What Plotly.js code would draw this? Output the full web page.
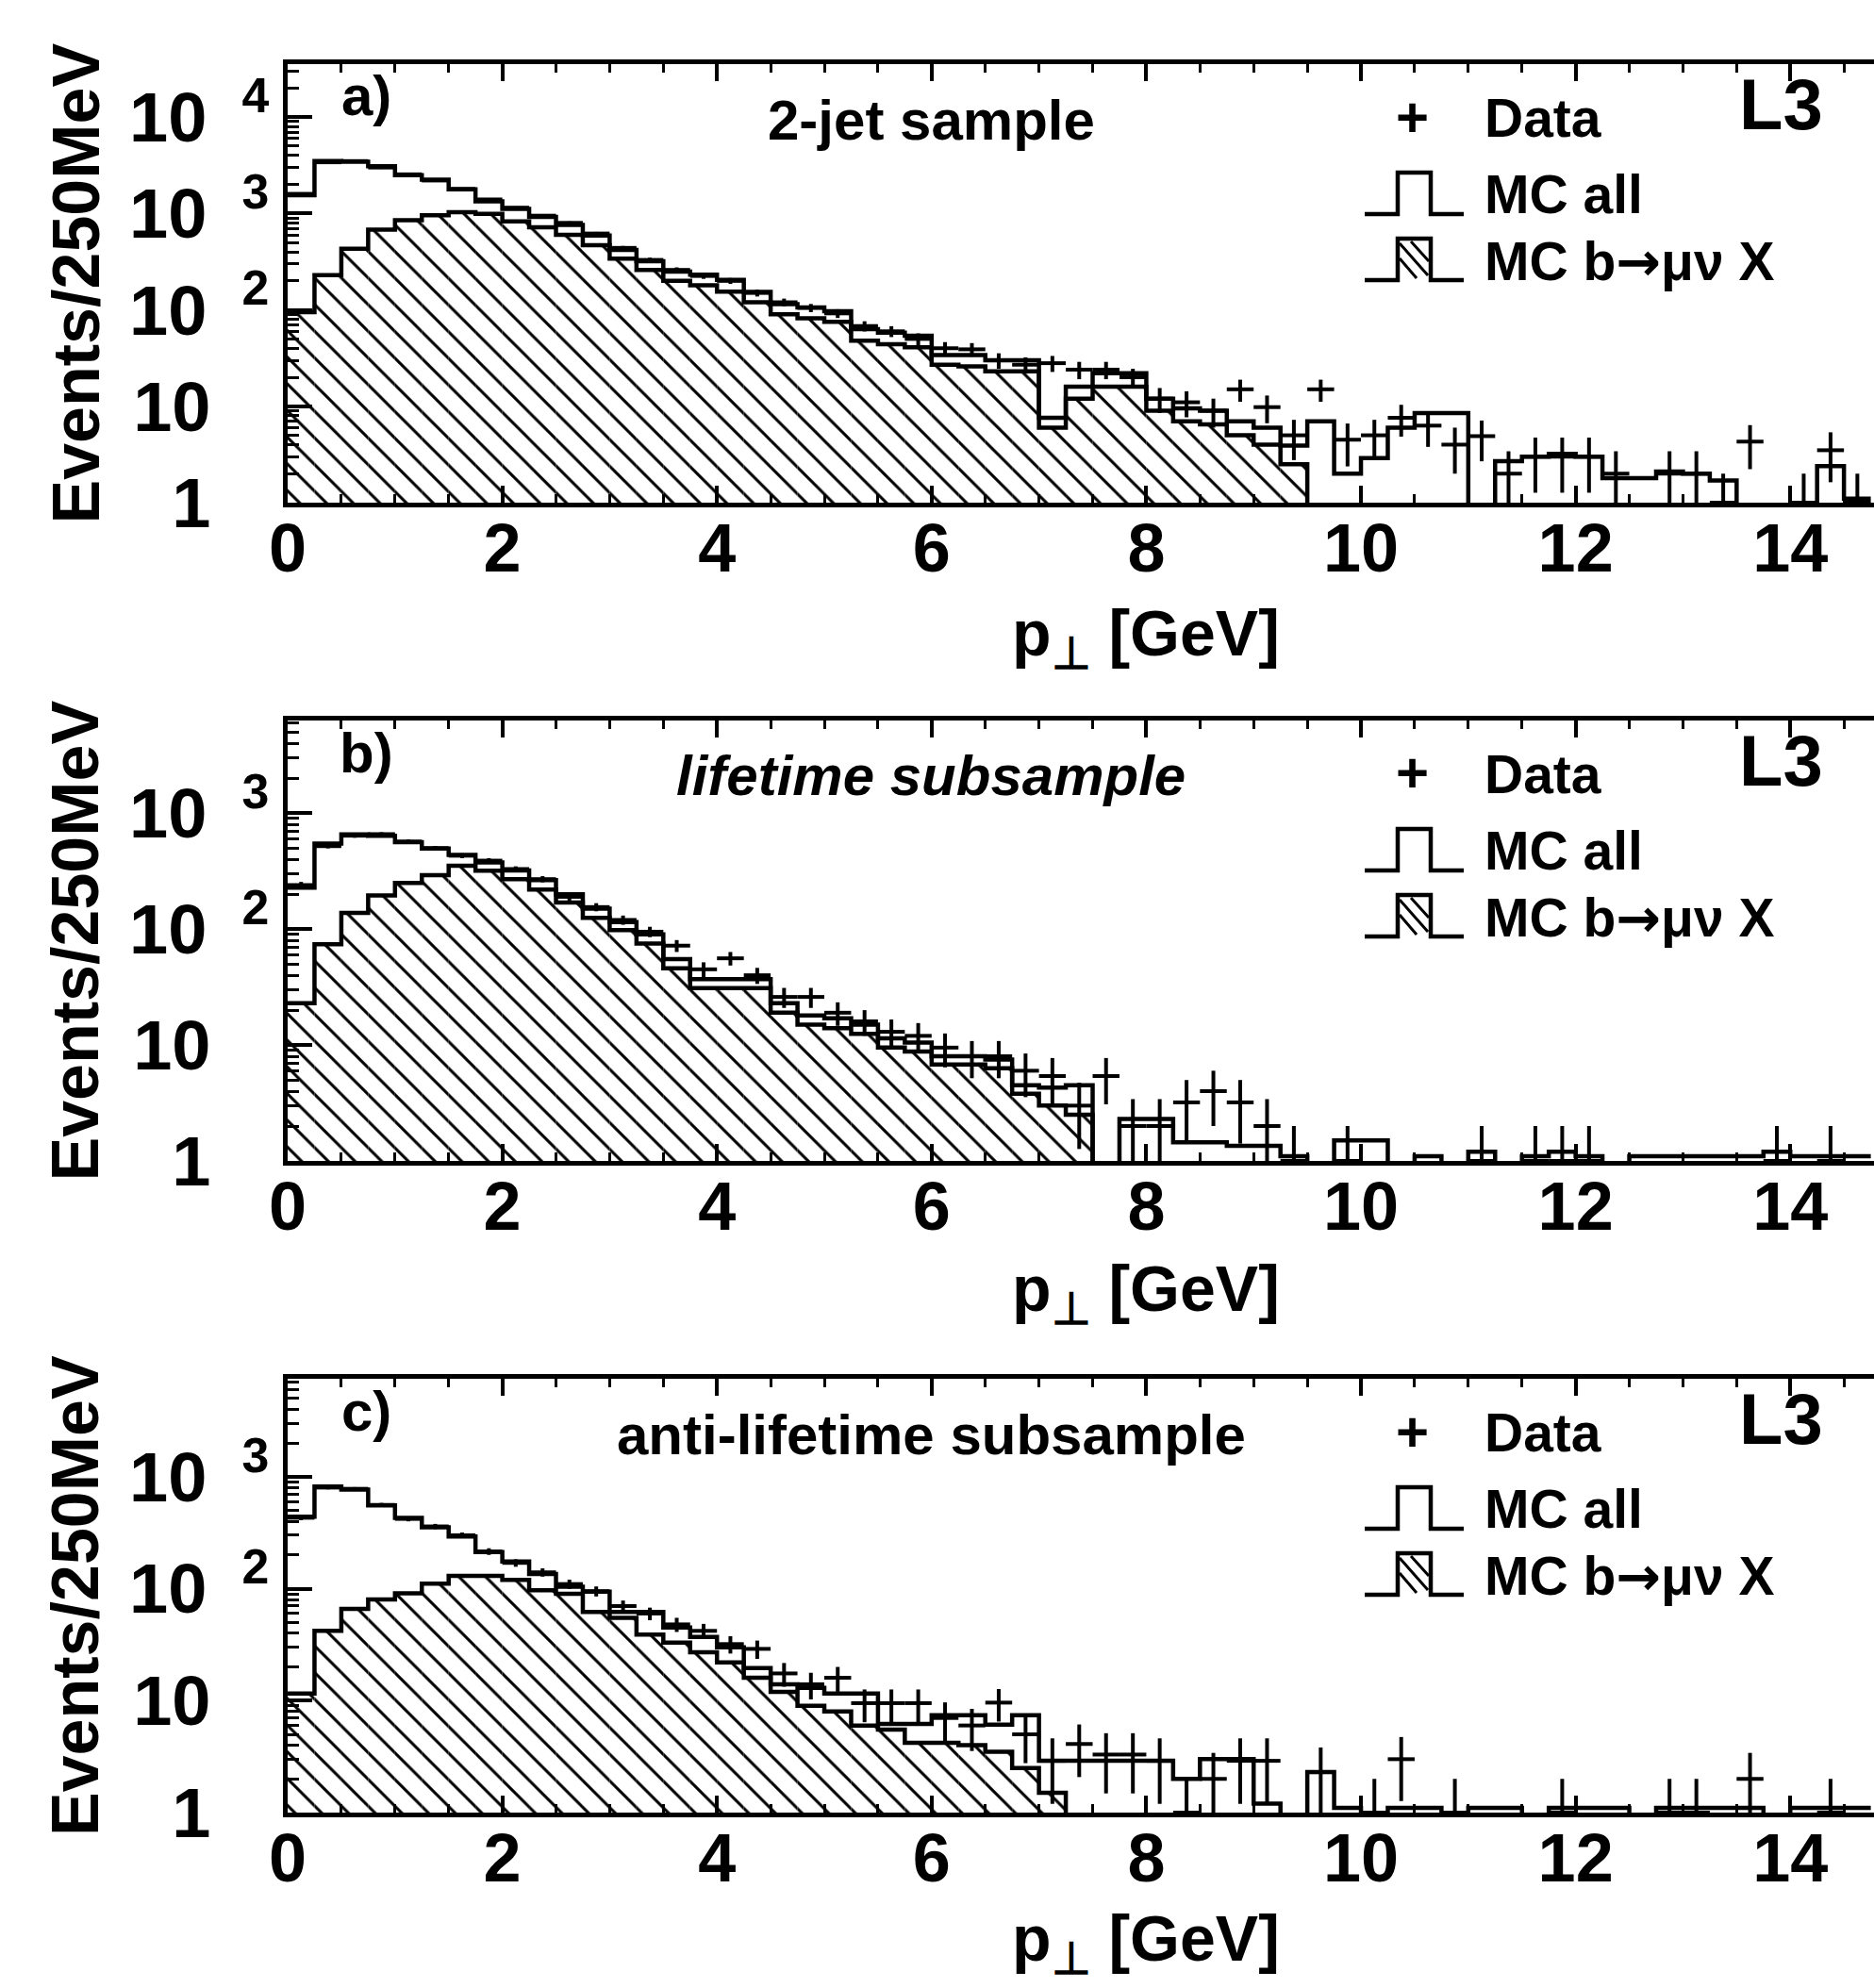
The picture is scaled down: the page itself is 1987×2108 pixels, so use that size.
<!DOCTYPE html>
<html>
<head>
<meta charset="utf-8">
<script src="https://cdn.plot.ly/plotly-3.0.1.min.js"></script>
<style>
html, body { margin: 0; padding: 0; background: #ffffff; }
#chart { width: 1987px; height: 2108px; }
</style>
</head>
<body>
<div id="chart"></div>
<script>
// ---------------- DATA ----------------
// bin centres of the 250 MeV p_T bins (GeV)
const pT = [0.125, 0.375, 0.625, 0.875, 1.125, 1.375, 1.625, 1.875, 2.125, 2.375,
            2.625, 2.875, 3.125, 3.375, 3.625, 3.875, 4.125, 4.375, 4.625, 4.875,
            5.125, 5.375, 5.625, 5.875, 6.125, 6.375, 6.625, 6.875, 7.125, 7.375,
            7.625, 7.875, 8.125, 8.375, 8.625, 8.875, 9.125, 9.375, 9.625, 9.875,
            10.125, 10.375, 10.625, 10.875, 11.125, 11.375, 11.625, 11.875, 12.125, 12.375,
            12.625, 12.875, 13.125, 13.375, 13.625, 13.875, 14.125, 14.375, 14.625];
const BIN_HALF = 0.125;

// a) 2-jet sample
const mcAllA = [1550, 3500, 3450, 3100, 2500, 2250, 1780, 1340, 1120, 920,
                760, 590, 420, 320, 250, 232, 205, 154, 115, 106,
                97, 63, 58, 54, 34, 34, 30, 30, 7.6, 16,
                22, 22, 12, 9.5, 9, 7, 6, 3.9, 7, 2,
                2.9, 6, 8.5, 8.5, 0.8, 2.7, 3, 3.2, 3, 1.8,
                1.8, 2.1, 2, 1.7, 0.9, 0.9, 0.9, 2.4, 1.1];
const mcBA   = [95, 230, 430, 680, 850, 960, 1030, 990, 830, 720,
                600, 470, 340, 260, 200, 180, 155, 120, 90, 82,
                75, 48, 44, 41, 27, 26, 23, 23, 6, 12,
                16, 16, 9, 7, 6.5, 5, 4, 2.5, 0.5, 0.5,
                0.5, 0.5, 0.5, 0.5, 0.5, 0.5, 0.5, 0.5, 0.5, 0.5,
                0.5, 0.5, 0.5, 0.5, 0.5, 0.5, 0.5, 0.5, 0.5];
const dataA  = [1600, 3400, 3500, 3000, 2550, 2200, 1800, 1400, 1150, 950,
                800, 620, 440, 330, 260, 225, 200, 150, 120, 105,
                92, 68, 60, 50, 40, 39, 30, 27, 28, 24,
                24, 20, 12, 11, 9, 15, 9.8, 5, 15, 4.5,
                5, 7.6, 6.3, 4, 4.9, 2, 3, 3, 3, 2,
                null, 2, 2, 1, 4.3, null, 1, 3.5, 1];

// b) lifetime subsample
const mcAllB = [228, 546, 658, 640, 563, 497, 438, 376, 321, 265,
                200, 150, 115, 90, 55, 37, 37, 37, 23, 18,
                17, 15, 11.4, 10.5, 8, 8, 7.5, 4.5, 4.3, 4.5,
                0.8, 2.3, 2.3, 1.45, 1.45, 1.35, 1.35, 1.1, 0.9, 1.5,
                1.5, 0.9, 1.1, 0.9, 1.2, 0.9, 1.1, 1.2, 1.1, 0.9,
                1.1, 1.1, 1.1, 1.1, 1.1, 1.2, 1.1, 1.1, 1.1];
const mcBB   = [23, 74, 138, 195, 250, 292, 352, 320, 270, 220,
                170, 125, 98, 75, 46, 31, 31, 31, 19, 15,
                14, 12.5, 9.5, 8.8, 6.8, 6.8, 6.3, 3.8, 3, 2.5,
                0.5, 0.5, 0.5, 0.5, 0.5, 0.5, 0.5, 0.5, 0.5, 0.5,
                0.5, 0.5, 0.5, 0.5, 0.5, 0.5, 0.5, 0.5, 0.5, 0.5,
                0.5, 0.5, 0.5, 0.5, 0.5, 0.5, 0.5, 0.5, 0.5];
const dataB  = [240, 520, 640, 660, 570, 500, 430, 390, 330, 270,
                190, 155, 120, 95, 72, 45, 56, 40, 26, 26,
                19, 16, 13, 12, 9.5, 8, 8, 6, 5.4, 3,
                5.4, 2, 2, 3.2, 4, 3.2, 2, 1, null, 1,
                null, null, null, null, 1, null, 1, 1, 1, null,
                null, null, null, null, null, 1, null, 1, null];

// c) anti-lifetime subsample
const mcAllC = [440, 819, 768, 556, 430, 354, 292, 212, 175, 135,
                104, 94, 62, 62, 45, 37, 30, 19.5, 14, 13,
                11.6, 11.6, 6.2, 6.2, 7.4, 7.4, 6.1, 7.4, 2.9, 2.9,
                2.9, 2.9, 2.9, 2, 3, 3, 1.2, 0.8, 2.3, 1.1,
                0.9, 1.1, 1.1, 0.9, 1.1, 1.1, 0.9, 1.1, 1.1, 1.1,
                0.9, 1.1, 1.1, 1.1, 1.1, 0.9, 1.1, 1.1, 1.1];
const mcBC   = [11.6, 42, 66, 80, 91, 111, 130, 130, 120, 97,
                90, 62, 55, 39, 33, 27, 22, 16, 12, 9,
                8, 6, 5.5, 4.2, 4.2, 4, 3.5, 2.5, 1.5, 0.5,
                0.5, 0.5, 0.5, 0.5, 0.5, 0.5, 0.5, 0.5, 0.5, 0.5,
                0.5, 0.5, 0.5, 0.5, 0.5, 0.5, 0.5, 0.5, 0.5, 0.5,
                0.5, 0.5, 0.5, 0.5, 0.5, 0.5, 0.5, 0.5, 0.5];
const dataC  = [430, 800, 780, 560, 420, 360, 300, 215, 170, 140,
                110, 95, 70, 60, 48, 42, 32, 29, 17.5, 14,
                16, 9.5, 9.5, 9.5, 7, 6, 9.6, 5, 2.9, 4.1,
                3.3, 3.3, 2.9, 1, 2, 2.9, 2.9, null, 2.3, null,
                1, 3, null, 1, null, null, null, 1, null, null,
                null, 1, 1, null, 2, null, null, 1, null];

// texts
const sampleNames = ['2-jet sample', 'lifetime subsample', 'anti-lifetime subsample'];
const panelTags   = ['a)', 'b)', 'c)'];
const legendLabels = ['Data', 'MC all',
  'MC b<span style="font-family:\'DejaVu Sans\'">\u2192</span>\u03bc\u03bd X'];
const experimentTag = 'L3';
const yTitleText = 'Events/250MeV';
const xTitleText = 'p<sub>\u22a5</sub> [GeV]';
const xTickVals = [0, 2, 4, 6, 8, 10, 12, 14];
const yTickVals = [[1, 10, 100, 1000, 10000], [1, 10, 100, 1000], [1, 10, 100, 1000]];
const yTickText = [
  ['1\u00a0\u00a0\u00a0', '10\u00a0\u00a0\u00a0', '10\u2002<sup>2</sup>', '10\u2002<sup>3</sup>', '10\u2002<sup>4</sup>'],
  ['1\u00a0\u00a0\u00a0', '10\u00a0\u00a0\u00a0', '10\u2002<sup>2</sup>', '10\u2002<sup>3</sup>'],
  ['1\u00a0\u00a0\u00a0', '10\u00a0\u00a0\u00a0', '10\u2002<sup>2</sup>', '10\u2002<sup>3</sup>']
];

const series = [
  {all: mcAllA, b: mcBA, data: dataA},
  {all: mcAllB, b: mcBB, data: dataB},
  {all: mcAllC, b: mcBC, data: dataC}
];

// ---------------- LAYOUT GEOMETRY (pixels) ----------------
const W = 1987, H = 2108;
const PLOT_LEFT = 305;
const X_MAX = 14.78;
const panelBox = [
  {top: 68,   bottom: 533,  logTop: 4.55,  xTitleDy: 143},
  {top: 764,  bottom: 1231, logTop: 3.80,  xTitleDy: 140},
  {top: 1462, bottom: 1922, logTop: 3.875, xTitleDy: 138}
];
const FONT = 'Liberation Sans, Arial, Helvetica, sans-serif';
const INK = '#000000';

const fx = p => p / W;
const fy = p => 1 - p / H;

// step-outline helper: edges from bin centres, drawn with 'hvh'
function stepX() {
  return [pT[0] - BIN_HALF].concat(pT, [pT[pT.length - 1] + BIN_HALF]);
}
function stepY(v) {
  return [v[0]].concat(v, [v[v.length - 1]]);
}

const traces = [];
const layout = {
  width: W, height: H,
  margin: {l: 0, r: 0, t: 0, b: 0, pad: 0},
  paper_bgcolor: '#ffffff',
  plot_bgcolor: '#ffffff',
  showlegend: false,
  barmode: 'overlay',
  font: {family: FONT, color: INK, weight: 'bold'},
  annotations: [],
  shapes: []
};

series.forEach((s, i) => {
  const n = i === 0 ? '' : String(i + 1);
  const xa = 'x' + n, ya = 'y' + n;
  const box = panelBox[i];

  // hatched b -> mu nu X histogram (fill)
  traces.push({
    type: 'bar', x: pT, y: s.b, xaxis: xa, yaxis: ya,
    width: 0.25,
    marker: {color: '#ffffff', line: {width: 0},
             pattern: {shape: '\\', fgcolor: INK, bgcolor: '#ffffff', size: 20, solidity: 0.15}},
    hoverinfo: 'skip'
  });
  // outline of hatched histogram
  traces.push({
    type: 'scatter', mode: 'lines', x: stepX(), y: stepY(s.b), xaxis: xa, yaxis: ya,
    line: {shape: 'hvh', color: INK, width: 4.5}, hoverinfo: 'skip'
  });
  // MC all histogram
  traces.push({
    type: 'scatter', mode: 'lines', x: stepX(), y: stepY(s.all), xaxis: xa, yaxis: ya,
    line: {shape: 'hvh', color: INK, width: 4.5}, hoverinfo: 'skip'
  });
  // data with error bars
  traces.push({
    type: 'scatter', mode: 'markers', x: pT, y: s.data, xaxis: xa, yaxis: ya,
    marker: {size: 3, color: INK},
    error_y: {type: 'sqrt', color: INK, thickness: 4, width: 0},
    error_x: {type: 'constant', value: BIN_HALF, color: INK, thickness: 4, width: 0},
    hoverinfo: 'skip'
  });

  layout['xaxis' + n] = {
    domain: [fx(PLOT_LEFT), 1],
    anchor: ya,
    range: [0, X_MAX],
    showgrid: false, zeroline: false,
    showline: true, linecolor: INK, linewidth: 5,
    mirror: 'ticks',
    ticks: 'inside', ticklen: 18, tickwidth: 4, tickcolor: INK,
    tickmode: 'array', tickvals: xTickVals,
    tickfont: {family: FONT, size: 72, color: INK, weight: 'bold'},
    ticklabelstandoff: -18,
    minor: {ticks: 'inside', dtick: 0.5, ticklen: 9, tickwidth: 3, tickcolor: INK}
  };
  layout['yaxis' + n] = {
    domain: [fy(box.bottom), fy(box.top)],
    anchor: xa,
    type: 'log',
    range: [0, box.logTop],
    showgrid: false, zeroline: false,
    showline: true, linecolor: INK, linewidth: 5,
    mirror: false,
    ticks: 'inside', ticklen: 26, tickwidth: 4, tickcolor: INK,
    tickmode: 'array', tickvals: yTickVals[i], ticktext: yTickText[i],
    tickfont: {family: FONT, size: 74, color: INK, weight: 'bold'},
    ticklabelstandoff: 0,
    minor: {ticks: 'inside', dtick: 'D1', ticklen: 12, tickwidth: 3, tickcolor: INK}
  };

  const T = box.top;
  const A = layout.annotations;
  const txt = (text, xp, yp, size, xanchor, extra) => A.push(Object.assign({
    xref: 'paper', yref: 'paper', x: fx(xp), y: fy(yp), text: text, showarrow: false,
    xanchor: xanchor, yanchor: 'middle',
    font: {family: FONT, size: size, color: INK, weight: 'bold'}
  }, extra || {}));

  txt(panelTags[i], 388, T + 34, 60, 'center');
  txt(sampleNames[i], 987, T + 59, 60, 'center',
      i === 1 ? {font: {family: FONT, size: 60, color: INK, weight: 'bold', style: 'italic'}} : {});
  txt('+', 1497, T + 56, 60, 'center');
  txt(legendLabels[0], 1572, T + 57, 57, 'left');
  txt(experimentTag, 1842, T + 42, 76, 'left');
  txt(legendLabels[1], 1572, T + 138, 57, 'left');
  txt(legendLabels[2], 1572, T + 209, 57, 'left');
  // axis titles
  txt(yTitleText, 80, (box.top + box.bottom) / 2, 70, 'center', {textangle: -90});
  txt(xTitleText, 1215, box.bottom + box.xTitleDy, 68, 'center');

  // legend glyphs (step outlines)
  const S = layout.shapes;
  const path = pts => 'M ' + pts.map(p => fx(p[0]) + ',' + fy(p[1])).join(' L ');
  S.push({type: 'path', xref: 'paper', yref: 'paper', line: {color: INK, width: 4.5},
          path: path([[1447, T + 159], [1482, T + 159], [1482, T + 115], [1517, T + 115], [1517, T + 159], [1552, T + 159]])});
  S.push({type: 'path', xref: 'paper', yref: 'paper', line: {color: INK, width: 4.5},
          path: path([[1447, T + 229], [1482, T + 229], [1482, T + 185], [1517, T + 185], [1517, T + 229], [1552, T + 229]])});
  [[[1484, T + 190], [1514, T + 224]], [[1484, T + 206], [1502, T + 227]], [[1496, T + 188], [1515, T + 209]]]
    .forEach(seg => S.push({type: 'line', xref: 'paper', yref: 'paper',
      x0: fx(seg[0][0]), y0: fy(seg[0][1]), x1: fx(seg[1][0]), y1: fy(seg[1][1]),
      line: {color: INK, width: 3}}));
});

Plotly.newPlot('chart', traces, layout, {staticPlot: true, displayModeBar: false});
</script>
</body>
</html>
